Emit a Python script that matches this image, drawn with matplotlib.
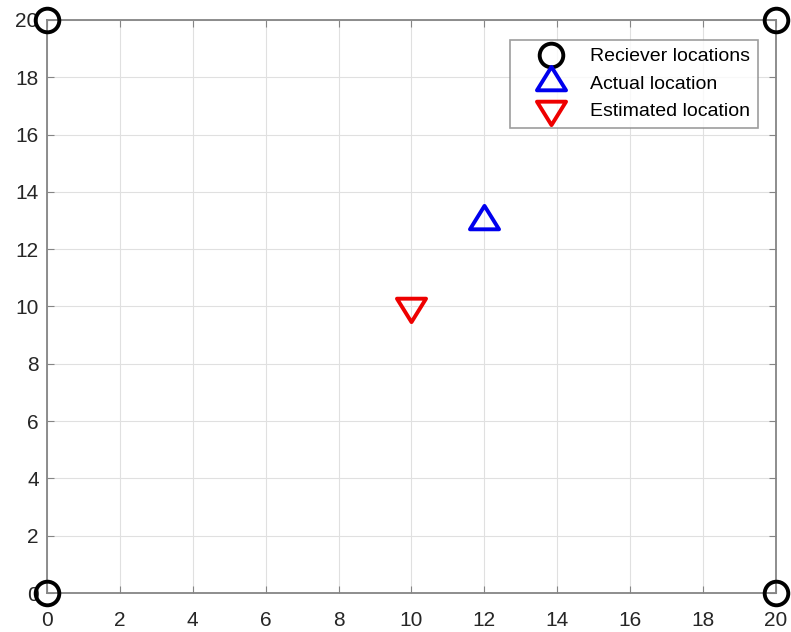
import numpy as np
import matplotlib.pyplot as plt
from matplotlib.path import Path

plt.rcParams['font.family'] = ['Liberation Sans', 'DejaVu Sans']

rx = [0, 0, 20, 20]
ry = [0, 20, 0, 20]
actual = (12, 13)
estimated = (10, 10)

# triangles centred on their centroid, like matlab does it
up_tri = Path([(0, 1), (-0.93, -0.5), (0.93, -0.5), (0, 1)],
              [Path.MOVETO, Path.LINETO, Path.LINETO, Path.CLOSEPOLY])
down_tri = Path([(0, -1), (-0.93, 0.5), (0.93, 0.5), (0, -1)],
                [Path.MOVETO, Path.LINETO, Path.LINETO, Path.CLOSEPOLY])

fig = plt.figure(figsize=(7.91, 6.32), dpi=100)
ax = fig.add_axes([0.0594, 0.0617, 0.9216, 0.9067])

ax.plot(rx, ry, 'o', mfc='none', mec='black', mew=2.8, ms=17, clip_on=False,
        label='Reciever locations', zorder=5)
ax.plot(actual[0], actual[1], linestyle='none', marker=up_tri, mfc='none',
        mec='#0000ee', mew=2.8, ms=22.5, label='Actual location', zorder=5)
ax.plot(estimated[0], estimated[1], linestyle='none', marker=down_tri, mfc='none',
        mec='#ee0000', mew=2.8, ms=22.5, label='Estimated location', zorder=5)

ax.set_xlim(0, 20)
ax.set_ylim(0, 20)
ax.set_xticks(np.arange(0, 21, 2))
ax.set_yticks(np.arange(0, 21, 2))
ax.grid(True, color='#e0e0e0', linewidth=0.8)
ax.set_axisbelow(True)
for s in ax.spines.values():
    s.set_color('#858585')
    s.set_linewidth(1.3)
ax.tick_params(direction='in', top=True, right=True, color='#858585',
               labelsize=15, labelcolor='#262626', length=5)
ax.tick_params(axis='x', pad=13)
ax.tick_params(axis='y', pad=6)

leg = ax.legend(loc='upper right', fontsize=14, frameon=True, fancybox=False,
                edgecolor='#858585', handletextpad=0.3, borderpad=0.4,
                labelspacing=0.5, handlelength=3.4, borderaxespad=0,
                bbox_to_anchor=(0.9753, 0.9651))
leg.get_frame().set_linewidth(1.2)

fig.savefig('out.png', dpi=100)
